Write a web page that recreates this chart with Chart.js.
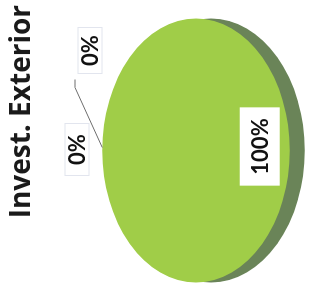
<!DOCTYPE html>
<html>
<head>
<meta charset="utf-8">
<script src="https://cdn.jsdelivr.net/npm/chart.js@4/dist/chart.umd.min.js"></script>
<style>
  html, body { margin:0; padding:0; background:#fff; width:316px; height:288px; overflow:hidden; }
  #wrap { position:absolute; left:14px; top:-14px; width:288px; height:316px; transform:rotate(-90deg); transform-origin:50% 50%; }
</style>
</head>
<body>
<div id="wrap"><canvas id="c" width="288" height="316"></canvas></div>
<script>
const title = 'Invest. Exterior';
const categories = ['Categoria 1', 'Categoria 2', 'Categoria 3'];
const values = [0, 0, 100];

const GREEN = '#a0cd48';
const SIDE = '#6a8458';
const CENTER_X = 137.5;
const CENTER_Y = 196;
const TILT = 0.71;
const DEPTH = 15;

const pie3d = {
  id: 'pie3d',
  beforeDatasetsDraw(chart) {
    const meta = chart.getDatasetMeta(0);
    const a = meta.data[meta.data.length - 1];
    const ctx = chart.ctx;
    ctx.save();
    ctx.translate(CENTER_X, CENTER_Y);
    ctx.scale(1, TILT);
    ctx.translate(-a.x, -a.y);
    ctx.beginPath();
    ctx.arc(a.x, a.y + DEPTH / TILT, a.outerRadius, 0, Math.PI * 2);
    ctx.fillStyle = SIDE;
    ctx.fill();
  },
  afterDatasetsDraw(chart) {
    chart.ctx.restore();
  },
  afterDraw(chart) {
    const meta = chart.getDatasetMeta(0);
    const ctx = chart.ctx;
    const a0 = meta.data[0];
    const cx = CENTER_X, cy = CENTER_Y;
    const rx = a0.outerRadius, ry = a0.outerRadius * TILT;
    const total = values.reduce((s, v) => s + v, 0);
    ctx.save();
    ctx.font = 'bold 22px Lato';
    ctx.textAlign = 'center';
    ctx.textBaseline = 'middle';
    meta.data.forEach((arc, i) => {
      const pct = Math.round(values[i] / total * 100) + '%';
      let lx, ly;
      if (values[i] > 0) {
        const mid = (arc.startAngle + arc.endAngle) / 2;
        lx = cx + Math.cos(mid) * rx * 0.68 + 4;
        ly = cy + Math.sin(mid) * ry * 0.68;
        const w = ctx.measureText(pct).width + 22;
        ctx.fillStyle = '#ffffff';
        ctx.fillRect(lx - w / 2, ly - 20, w, 40);
      } else if (i === 0) {
        lx = cx + 100; ly = cy - 106;
        ctx.strokeStyle = '#6d6d6d';
        ctx.lineWidth = 1;
        ctx.beginPath();
        ctx.moveTo(cx + 71, cy - 121);
        ctx.lineTo(cx + 63, cy - 121);
        ctx.lineTo(cx + 3, cy - ry);
        ctx.stroke();
        ctx.strokeStyle = '#e2e5ee';
        ctx.strokeRect(lx - 23, ly - 12, 46, 24);
      } else {
        lx = cx + 1; ly = cy - 119;
        ctx.strokeStyle = '#e2e5ee';
        ctx.strokeRect(lx - 26, ly - 12, 52, 24);
      }
      ctx.fillStyle = '#111111';
      ctx.fillText(pct, lx, ly + 1);
    });
    ctx.restore();
  }
};

new Chart(document.getElementById('c'), {
  type: 'pie',
  data: {
    labels: categories,
    datasets: [{
      data: values,
      backgroundColor: [GREEN, GREEN, GREEN],
      borderWidth: 0,
      radius: 132
    }]
  },
  options: {
    responsive: false,
    animation: false,
    events: [],
    layout: { padding: { left: 0, right: 5, top: 0, bottom: 0 } },
    plugins: {
      legend: { display: false },
      tooltip: { enabled: false },
      title: {
        display: true,
        text: title,
        align: 'end',
        color: '#1a1a1a',
        font: { family: 'Open Sans', size: 28, weight: 'bold' },
        padding: { top: 5, bottom: 4 }
      }
    }
  },
  plugins: [pie3d]
});
</script>
</body>
</html>
